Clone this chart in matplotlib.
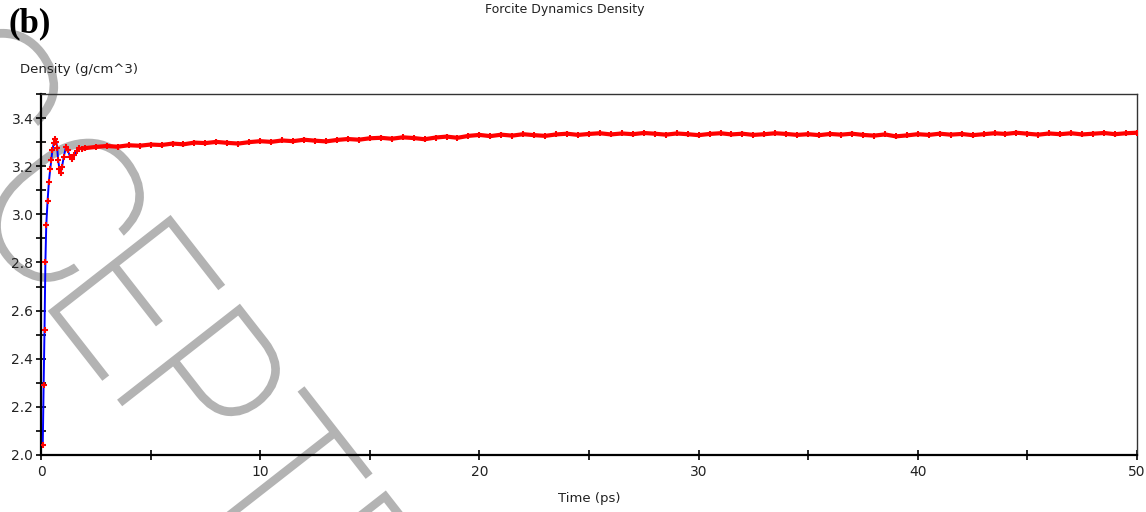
import matplotlib
matplotlib.use("Agg")
import matplotlib.pyplot as plt
from matplotlib.ticker import MultipleLocator
from matplotlib.textpath import TextPath, TextToPath
from matplotlib.font_manager import FontProperties
from matplotlib.patches import PathPatch
from matplotlib.transforms import Affine2D, IdentityTransform

# Time (ps) and density (g/cm^3), start-up oscillation
time_early = [0.08, 0.12, 0.16, 0.20, 0.24, 0.30, 0.36, 0.42, 0.47, 0.52,
              0.58, 0.64, 0.70, 0.74, 0.78, 0.84, 0.90, 0.96, 1.04, 1.14,
              1.22, 1.32, 1.42, 1.52, 1.62, 1.74, 1.86]
dens_early = [2.040, 2.290, 2.520, 2.800, 2.955, 3.056, 3.135, 3.187, 3.226, 3.267,
              3.295, 3.314, 3.300, 3.274, 3.226, 3.190, 3.172, 3.198, 3.240, 3.280,
              3.267, 3.240, 3.230, 3.246, 3.265, 3.276, 3.272]

# Equilibrated part
time_flat = [2.0, 2.5, 3.0, 3.5, 4.0, 4.5, 5.0, 5.5, 6.0, 6.5,
             7.0, 7.5, 8.0, 8.5, 9.0, 9.5, 10.0, 10.5, 11.0, 11.5,
             12.0, 12.5, 13.0, 13.5, 14.0, 14.5, 15.0, 15.5, 16.0, 16.5,
             17.0, 17.5, 18.0, 18.5, 19.0, 19.5, 20.0, 20.5, 21.0, 21.5,
             22.0, 22.5, 23.0, 23.5, 24.0, 24.5, 25.0, 25.5, 26.0, 26.5,
             27.0, 27.5, 28.0, 28.5, 29.0, 29.5, 30.0, 30.5, 31.0, 31.5,
             32.0, 32.5, 33.0, 33.5, 34.0, 34.5, 35.0, 35.5, 36.0, 36.5,
             37.0, 37.5, 38.0, 38.5, 39.0, 39.5, 40.0, 40.5, 41.0, 41.5,
             42.0, 42.5, 43.0, 43.5, 44.0, 44.5, 45.0, 45.5, 46.0, 46.5,
             47.0, 47.5, 48.0, 48.5, 49.0, 49.5, 50.0]
dens_flat = [3.275, 3.280, 3.284, 3.281, 3.287, 3.285, 3.290, 3.288, 3.294, 3.291,
             3.298, 3.296, 3.301, 3.297, 3.294, 3.300, 3.304, 3.301, 3.307, 3.304,
             3.310, 3.306, 3.303, 3.309, 3.313, 3.310, 3.316, 3.318, 3.314, 3.320,
             3.317, 3.312, 3.319, 3.323, 3.318, 3.326, 3.330, 3.325, 3.331, 3.327,
             3.333, 3.329, 3.326, 3.332, 3.335, 3.330, 3.334, 3.337, 3.332, 3.336,
             3.333, 3.338, 3.335, 3.331, 3.336, 3.333, 3.329, 3.334, 3.337, 3.332,
             3.335, 3.330, 3.333, 3.337, 3.334, 3.330, 3.333, 3.329, 3.334, 3.331,
             3.335, 3.330, 3.327, 3.332, 3.324, 3.328, 3.333, 3.330, 3.335, 3.331,
             3.334, 3.329, 3.333, 3.337, 3.334, 3.339, 3.335, 3.331, 3.336, 3.333,
             3.337, 3.332, 3.335, 3.338, 3.333, 3.337, 3.339]

time_all = time_early + time_flat
dens_all = dens_early + dens_flat

x_ticks = [0, 10, 20, 30, 40, 50]
y_ticks = [2.0, 2.2, 2.4, 2.6, 2.8, 3.0, 3.2, 3.4]

plt.rcParams["font.family"] = "DejaVu Sans"

fig = plt.figure(figsize=(11.46, 5.12), dpi=100)
ax = fig.add_axes([41 / 1146, 1 - 455 / 512, 1096 / 1146, 361 / 512])
ax.patch.set_visible(False)

# blue line through all points, red crosses on top
ax.plot(time_all, dens_all, color="#0000ff", lw=1.4, zorder=3)
ax.plot(time_flat, dens_flat, color="#ff0000", lw=3.0, zorder=4)
ax.plot(time_all, dens_all, "+", color="#ff0000", ms=5, mew=1.5, zorder=5)

ax.set_xlim(0, 50)
ax.set_ylim(2.0, 3.5)
ax.set_xticks(x_ticks)
ax.set_yticks(y_ticks)
ax.set_yticklabels([f"{v:.1f}" for v in y_ticks])
ax.xaxis.set_minor_locator(MultipleLocator(5))
ax.yaxis.set_minor_locator(MultipleLocator(0.1))
ax.tick_params(which="both", direction="inout", length=7, width=1.2, colors="black",
               labelsize=10, labelcolor="#222222")
ax.tick_params(axis="x", pad=4)
ax.tick_params(axis="y", pad=2)

for side in ["left", "bottom"]:
    ax.spines[side].set_linewidth(1.6)
for side in ["top", "right"]:
    ax.spines[side].set_linewidth(1.0)
    ax.spines[side].set_color("#333333")

ax.set_xlabel("Time (ps)", fontsize=9.5, color="#222222", labelpad=9)

fig.text(565 / 1146, 1 - 10 / 512, "Forcite Dynamics Density", ha="center", va="center",
         fontsize=9, color="#222222")
fig.text(20 / 1146, 1 - 70 / 512, "Density (g/cm^3)", ha="left", va="center",
         fontsize=9.5, color="#222222")
fig.text(8 / 1146, 1 - 24 / 512, "(b)", ha="left", va="center", fontsize=25,
         fontweight="bold", family="Liberation Serif")

# journal watermark, thin grey letters running down-right behind the data
wm_font = FontProperties(family="Roboto", weight="light", size=100)
em_px = 215
angle = -52
anchor = (38, 512 - 296)   # where the "E" starts, in pixels
acc_w, _, _ = TextToPath().get_text_width_height_descent("ACC", wm_font, ismath=False)
s = em_px / 100.0
parts = [("ACC", -acc_w * s + 18, 1.0), ("EPTED", 0, 0.92)]
for txt, shift, squeeze in parts:
    p = TextPath((0, 0), txt, prop=wm_font)
    tr = (Affine2D().scale(s * squeeze, s).translate(shift, 0)
          .rotate_deg(angle).translate(*anchor))
    wm = PathPatch(tr.transform_path(p), transform=IdentityTransform(),
                   facecolor="#b3b3b3", edgecolor="#b3b3b3", lw=2.2, zorder=-1)
    fig.add_artist(wm)

plt.savefig("out.png", dpi=100)
plt.close(fig)
